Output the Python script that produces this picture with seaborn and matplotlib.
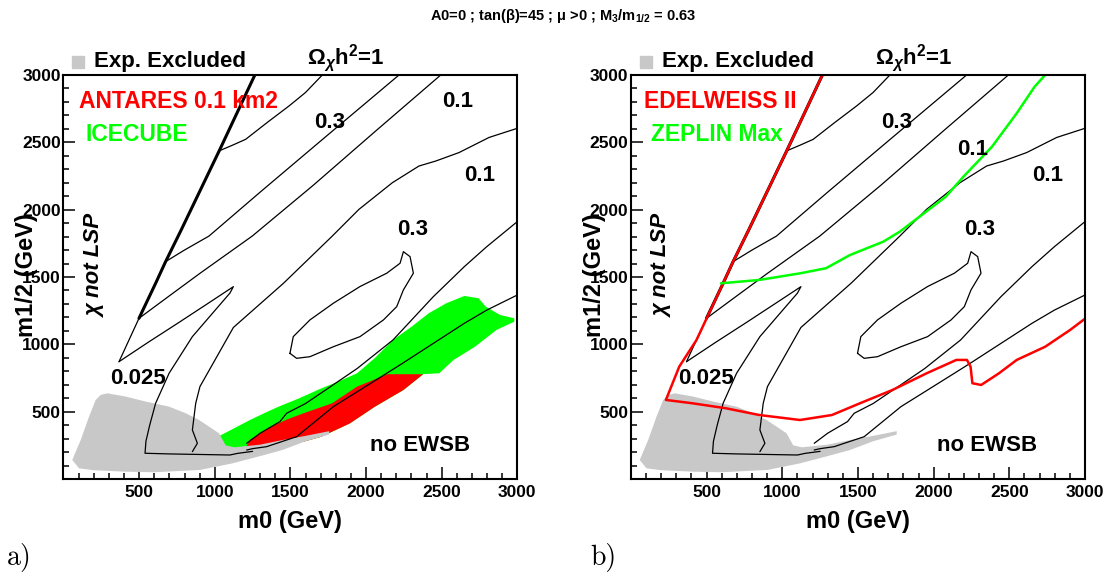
import matplotlib
matplotlib.use("Agg")
import matplotlib.pyplot as plt
import seaborn as sns

# ---- values (m0, m1/2 in GeV) ----
# boundary of the "chi not LSP" region
lsp_m0 = [1265, 1032, 778, 675, 609, 499, 433, 367]
lsp_m12 = [3000, 2443, 1849, 1614, 1453, 1193, 1032, 871]

# relic density contours
omega1_m0 = [1028, 1120, 1204, 1350, 1491, 1600, 1711]
omega1_m12 = [2436, 2480, 2522, 2650, 2770, 2870, 3000]

c03a_m0 = [675, 800, 962, 1300, 1700, 2218]
c03a_m12 = [1614, 1700, 1804, 2130, 2510, 3000]

c01a_m0 = [499, 700, 902, 1248, 1650, 2070, 2494]
c01a_m12 = [1193, 1360, 1527, 1804, 2180, 2590, 3000]

c0025_m0 = [367, 560, 760, 950, 1123, 1100, 1000, 852, 698, 609, 570, 545, 539, 700, 900, 1100, 1150, 1250]
c0025_m12 = [871, 1015, 1160, 1300, 1428, 1380, 1250, 1057, 785, 562, 400, 280, 191, 186, 182, 178, 190, 205]

c01b_m0 = [852, 885, 852, 874, 902, 1123, 1454, 1777, 1953, 2174, 2350, 2461, 2615, 2813, 3000]
c01b_m12 = [203, 265, 364, 562, 686, 1125, 1453, 1804, 2002, 2200, 2324, 2361, 2424, 2536, 2604]

c03b_m0 = [3000, 2798, 2650, 2445, 2178, 1941, 1784, 1600, 1475, 1431, 1300, 1211]
c03b_m12 = [1911, 1725, 1577, 1354, 1032, 820, 700, 560, 488, 426, 340, 265]

c0025b_m0 = [3000, 2798, 2650, 2240, 2137, 1784, 1541, 1343, 1249, 1211]
c0025b_m12 = [1366, 1254, 1156, 858, 785, 537, 314, 240, 225, 215]

island_m0 = [1497, 1519, 1629, 1784, 1960, 2137, 2225, 2247, 2291, 2313, 2247, 2203, 2115, 1960, 1784, 1629, 1541, 1497]
island_m12 = [933, 1057, 1181, 1305, 1429, 1528, 1602, 1688, 1651, 1528, 1404, 1280, 1181, 1057, 982, 908, 896, 933]

# experimentally excluded region
excl_m0 = [58, 114, 169, 213, 246, 290, 411, 543, 698, 808, 896, 962, 1028, 1072, 1130, 1300, 1447,
           1600, 1756, 1756, 1600, 1447, 1300, 1117, 902, 600, 411, 200, 103]
excl_m12 = [141, 290, 463, 587, 624, 636, 612, 575, 537, 488, 438, 389, 339, 250, 235, 255, 289,
            320, 355, 330, 280, 215, 170, 116, 67, 50, 54, 65, 79]

# panel a: neutrino telescope sensitivity regions
icecube_m0 = [1021, 1100, 1233, 1330, 1422, 1560, 1705, 1830, 1941, 2060, 2178, 2300, 2414, 2531, 2650,
              2744, 2791, 2886, 2980, 2980, 2862, 2720, 2579, 2484, 2378, 2248, 2059, 1894, 1705, 1587,
              1469, 1280, 1093, 1040]
icecube_m12 = [314, 360, 438, 490, 537, 600, 673, 730, 785, 900, 1032, 1130, 1230, 1305, 1359,
               1342, 1280, 1218, 1193, 1168, 1106, 982, 884, 785, 778, 661, 537, 413, 314, 277,
               252, 240, 228, 240]
antares_m0 = [1209, 1233, 1375, 1469, 1587, 1776, 1941, 2142, 2378, 2248, 2059, 1894, 1705, 1587, 1469, 1280]
antares_m12 = [240, 290, 389, 438, 488, 562, 686, 778, 778, 661, 537, 413, 314, 277, 252, 240]

# panel b: direct detection limits
edelweiss_m0 = [1265, 1032, 778, 675, 609, 433, 319, 231, 407, 628, 848, 1117, 1328, 1513, 1728, 1954,
                2150, 2220, 2244, 2256, 2314, 2432, 2549, 2737, 2901, 3000]
edelweiss_m12 = [3000, 2443, 1849, 1614, 1453, 1032, 834, 587, 562, 525, 475, 438, 475, 562, 661, 785,
                 884, 884, 834, 711, 698, 785, 884, 982, 1106, 1190]
zeplin_m0 = [595, 848, 1117, 1289, 1447, 1667, 1777, 2080, 2197, 2386, 2549, 2667, 2737]
zeplin_m12 = [1453, 1478, 1527, 1565, 1663, 1762, 1837, 2096, 2245, 2468, 2716, 2913, 3000]

# contour labels (text, m0, m1/2)
labels_a = [("0.3", 1759, 2646), ("0.1", 2608, 2800), ("0.1", 2751, 2250),
            ("0.3", 2307, 1849), ("0.025", 495, 748), ("no EWSB", 2357, 252)]
labels_b = [("0.3", 1758, 2646), ("0.1", 2256, 2443), ("0.1", 2753, 2250),
            ("0.3", 2307, 1849), ("0.025", 495, 748), ("no EWSB", 2354, 252)]

sns.set_style("white")
plt.rcParams["font.family"] = ["Liberation Sans", "DejaVu Sans"]
plt.rcParams["font.weight"] = "bold"
plt.rcParams["text.color"] = "black"
plt.rcParams["axes.labelcolor"] = "black"
plt.rcParams["xtick.color"] = "black"
plt.rcParams["ytick.color"] = "black"
plt.rcParams["mathtext.fontset"] = "custom"
plt.rcParams["mathtext.rm"] = "Liberation Sans"
plt.rcParams["mathtext.it"] = "Liberation Sans:italic"
plt.rcParams["mathtext.bf"] = "Liberation Sans:bold"

GREY = "#c8c8c8"
RED = "#ff0000"
GREEN = "#00ff00"


def line(ax, x, y, color="black", lw=0.9):
    sns.lineplot(x=x, y=y, sort=False, estimator=None, ax=ax, color=color, lw=lw)


def draw_panel(ax, labels):
    ax.fill(excl_m0, excl_m12, color=GREY, lw=0)
    line(ax, lsp_m0[:6], lsp_m12[:6], lw=2.2)
    line(ax, lsp_m0[5:], lsp_m12[5:])
    for xs, ys in [(omega1_m0, omega1_m12), (c03a_m0, c03a_m12), (c01a_m0, c01a_m12),
                   (c0025_m0, c0025_m12), (c01b_m0, c01b_m12), (c03b_m0, c03b_m12),
                   (c0025b_m0, c0025b_m12), (island_m0, island_m12)]:
        line(ax, xs, ys)
    for s, x, y in labels:
        ax.text(x, y, s, ha="center", va="center", fontsize=16, fontweight="bold")
    ax.text(208, 1589, "χ not LSP", rotation=90, ha="center", va="center",
            fontsize=16, fontweight="bold", fontstyle="italic")
    # legend-like annotations above the frame
    ax.plot([0.033], [1.031], "s", color=GREY, ms=8, transform=ax.transAxes, clip_on=False)
    ax.text(0.068, 1.033, "Exp. Excluded", transform=ax.transAxes, ha="left", va="center",
            fontsize=16, fontweight="bold")
    ax.text(0.537, 1.042, r"$\Omega_{\chi}\mathbf{h^{2}}$=1", transform=ax.transAxes,
            ha="left", va="center", fontsize=16, fontweight="bold")

    ax.set_xlim(0, 3000)
    ax.set_ylim(0, 3000)
    ax.set_xticks([500, 1000, 1500, 2000, 2500, 3000])
    ax.set_yticks([500, 1000, 1500, 2000, 2500, 3000])
    ax.set_xticks(range(100, 3000, 100), minor=True)
    ax.set_yticks(range(100, 3000, 100), minor=True)
    ax.tick_params(which="both", direction="in", top=False, right=False, bottom=True, left=True,
                   width=1.1, labelsize=12.5, colors="black")
    ax.tick_params(which="major", length=8.5)
    ax.tick_params(which="minor", length=4)
    ax.tick_params(axis="x", pad=4.5)
    ax.tick_params(axis="y", pad=2)
    for t in ax.get_xticklabels() + ax.get_yticklabels():
        t.set_fontweight("bold")
    for sp in ax.spines.values():
        sp.set_linewidth(1.5)
        sp.set_color("black")
    ax.set_xlabel("m0 (GeV)", fontsize=17, fontweight="bold")
    ax.set_ylabel("m1/2 (GeV)", fontsize=17, fontweight="bold")
    ax.xaxis.set_label_coords(0.5, -0.078)
    ax.yaxis.set_label_coords(-0.056, 0.505)


fig = plt.figure(figsize=(11.12, 5.75), dpi=100)
ax_a = fig.add_axes([0.0571, 0.1670, 0.4081, 0.7026])
ax_b = fig.add_axes([0.5674, 0.1670, 0.4083, 0.7026])

# panel a: ICECUBE / ANTARES regions under the contours
ax_a.fill(icecube_m0, icecube_m12, color=GREEN, lw=0)
ax_a.fill(antares_m0, antares_m12, color=RED, lw=0)
draw_panel(ax_a, labels_a)
ax_a.text(100, 2802, "ANTARES 0.1 km2", color=RED, ha="left", va="center", fontsize=16.5, fontweight="bold")
ax_a.text(147, 2555, "ICECUBE", color=GREEN, ha="left", va="center", fontsize=16.5, fontweight="bold")

# panel b: EDELWEISS II / ZEPLIN Max limits
draw_panel(ax_b, labels_b)
line(ax_b, edelweiss_m0, edelweiss_m12, color=RED, lw=1.8)
line(ax_b, zeplin_m0, zeplin_m12, color=GREEN, lw=1.8)
ax_b.text(85, 2802, "EDELWEISS II", color=RED, ha="left", va="center", fontsize=16.5, fontweight="bold")
ax_b.text(132, 2555, "ZEPLIN Max", color=GREEN, ha="left", va="center", fontsize=16.5, fontweight="bold")

fig.text(0.506, 0.972, r"A0=0 ; tan(β)=45 ; μ >0 ; M$_{\mathbf{3}}$/m$_{\mathbf{1/2}}$ = 0.63",
         ha="center", va="center", fontsize=10.5, fontweight="bold")
fig.text(0.006, 0.03, "a)", fontfamily="cmr10", fontsize=20, fontweight="normal", ha="left", va="center")
fig.text(0.531, 0.03, "b)", fontfamily="cmr10", fontsize=20, fontweight="normal", ha="left", va="center")

fig.savefig("out.png", dpi=100)
